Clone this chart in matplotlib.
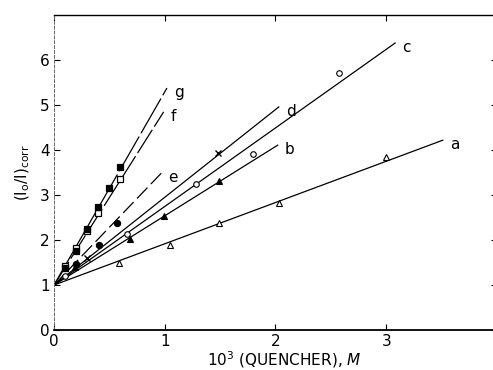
import matplotlib
matplotlib.use("Agg")
import matplotlib.pyplot as plt

# Stern-Volmer plots: (I0/I)corr against quencher concentration
# Fitted lines all start at (0, 1); end points per curve
line_names = ["a", "b", "c", "d", "e", "f", "g"]
line_end_x = [3.51, 2.02, 3.08, 2.03, 0.97, 0.99, 1.02]
line_end_y = [4.22, 4.11, 6.38, 4.96, 3.49, 4.85, 5.38]

# measured points
a_x = [0.59, 1.05, 1.49, 2.03, 3.00]
a_y = [1.49, 1.90, 2.38, 2.82, 3.85]
b_x = [0.19, 0.69, 0.99, 1.49]
b_y = [1.40, 2.03, 2.53, 3.31]
c_x = [0.10, 0.66, 1.28, 1.80, 2.57]
c_y = [1.20, 2.13, 3.24, 3.91, 5.71]
d_x = [0.30, 1.48]
d_y = [1.60, 3.94]
e_x = [0.20, 0.41, 0.57]
e_y = [1.46, 1.89, 2.38]
f_x = [0.10, 0.20, 0.30, 0.40, 0.60]
f_y = [1.42, 1.83, 2.20, 2.60, 3.35]
g_x = [0.10, 0.20, 0.30, 0.40, 0.50, 0.60]
g_y = [1.38, 1.76, 2.25, 2.74, 3.15, 3.62]

x_ticks = [0, 1, 2, 3, 4]
y_ticks = [0, 1, 2, 3, 4, 5, 6]

fig = plt.figure(figsize=(4.93, 3.70), dpi=100)
ax = fig.add_axes([0.1095, 0.108, 0.8986, 0.851])

styles = {
    "a": dict(ls="-"),
    "b": dict(ls="-"),
    "c": dict(ls="-"),
    "d": dict(ls="-"),
    "e": dict(ls=(0, (12, 4))),
    "f": dict(ls=(0, (22, 3))),
    "g": dict(ls=(0, (32, 3))),
}
for name, xe, ye in zip(line_names, line_end_x, line_end_y):
    ax.plot([0, xe], [1, ye], color="black", lw=0.9, **styles[name])
    ax.annotate(name, (xe, ye), xytext=(5, -3), textcoords="offset points",
                fontsize=11, ha="left", va="center")

ms = 4
ax.plot(a_x, a_y, "^", mfc="white", mec="black", ms=ms, mew=0.8)
ax.plot(b_x, b_y, "^", mfc="black", mec="black", ms=ms, mew=0.8)
ax.plot(c_x, c_y, "o", mfc="white", mec="black", ms=ms, mew=0.8)
ax.plot(d_x, d_y, "x", color="black", ms=ms, mew=1.0)
ax.plot(e_x, e_y, "o", mfc="black", mec="black", ms=ms + 0.5, mew=0.8)
ax.plot(f_x, f_y, "s", mfc="white", mec="black", ms=ms, mew=0.9)
ax.plot(g_x, g_y, "s", mfc="black", mec="black", ms=ms, mew=0.9)

ax.set_xlim(0, 4)
ax.set_ylim(0, 7)
ax.set_xticks(x_ticks)
ax.set_yticks(y_ticks)
ax.tick_params(direction="in", length=4, width=0.8, labelsize=11,
               top=True, right=True, pad=3)

ax.spines["left"].set_linestyle((0, (3, 2)))
ax.spines["left"].set_color("#666666")
ax.spines["left"].set_linewidth(0.7)
ax.spines["bottom"].set_linewidth(1.3)
ax.spines["top"].set_linewidth(1.0)

ax.set_xlabel(r"10$^3$ (QUENCHER), $M$", fontsize=11, labelpad=2)
ax.xaxis.set_label_coords(0.52, -0.06)
ax.set_ylabel(r"(I$_{\rm o}$/I)$_{\rm corr}$", fontsize=11, labelpad=6)

fig.savefig("out.png", dpi=100)
plt.close(fig)
